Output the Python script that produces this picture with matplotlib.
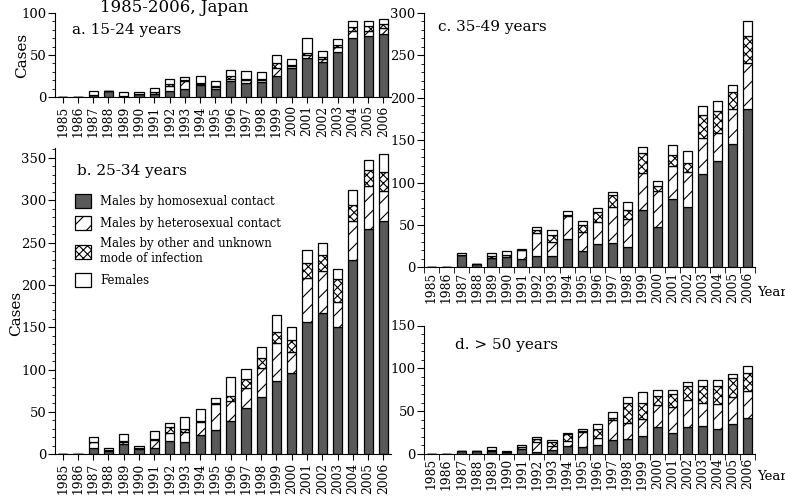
import matplotlib
matplotlib.use('Agg')
import matplotlib.pyplot as plt
from matplotlib.patches import Patch
from matplotlib.ticker import MultipleLocator, FixedLocator

plt.rcParams['font.family'] = 'DejaVu Serif'
plt.rcParams['hatch.linewidth'] = 0.8

years = list(range(1985, 2007))

# a. 15-24 years
a_homo = [0, 0, 2, 7, 1, 3, 3, 7, 10, 14, 10, 19, 17, 18, 25, 34, 47, 42, 54, 70, 73, 75]
a_hetero = [0, 0, 0, 0, 0, 0, 3, 6, 9, 2, 2, 3, 3, 2, 10, 3, 3, 3, 5, 8, 6, 7]
a_other = [0, 0, 0, 0, 0, 0, 0, 2, 1, 1, 1, 3, 1, 2, 6, 1, 2, 3, 3, 5, 5, 5]
a_female = [0, 0, 5, 0, 5, 3, 5, 7, 4, 8, 6, 7, 10, 8, 9, 7, 18, 7, 7, 8, 7, 6]

# b. 25-34 years
b_homo = [0, 0, 8, 4, 12, 6, 7, 16, 15, 23, 29, 39, 55, 68, 87, 96, 156, 167, 150, 230, 266, 275]
b_hetero = [0, 0, 7, 1, 3, 2, 10, 9, 11, 15, 30, 24, 23, 34, 45, 25, 52, 50, 30, 45, 51, 36]
b_other = [0, 0, 0, 0, 1, 0, 1, 7, 4, 1, 2, 6, 11, 12, 13, 14, 18, 18, 27, 19, 19, 23]
b_female = [0, 0, 6, 2, 8, 2, 10, 5, 14, 15, 5, 22, 12, 13, 19, 15, 15, 14, 12, 18, 12, 21]

# c. 35-49 years
c_homo = [0, 0, 15, 4, 11, 12, 10, 13, 13, 33, 19, 28, 29, 24, 68, 47, 80, 71, 110, 125, 146, 187]
c_hetero = [0, 0, 0, 0, 0, 3, 10, 28, 17, 27, 23, 26, 42, 33, 43, 43, 39, 42, 42, 34, 41, 54]
c_other = [0, 0, 0, 0, 2, 0, 0, 3, 8, 2, 8, 11, 14, 11, 24, 6, 13, 10, 28, 25, 20, 32]
c_female = [0, 0, 2, 0, 4, 4, 2, 3, 6, 4, 5, 5, 4, 9, 7, 6, 12, 14, 10, 12, 8, 17]

# d. > 50 years
d_homo = [0, 0, 3, 4, 3, 2, 6, 2, 5, 9, 8, 10, 16, 18, 21, 31, 25, 31, 33, 29, 35, 42]
d_hetero = [0, 0, 0, 0, 0, 0, 2, 12, 4, 6, 18, 9, 24, 18, 20, 26, 30, 32, 27, 29, 31, 31]
d_other = [0, 0, 0, 0, 2, 0, 0, 4, 5, 8, 1, 10, 2, 24, 19, 11, 15, 16, 19, 21, 23, 22]
d_female = [0, 0, 0, 0, 3, 1, 3, 2, 2, 1, 2, 6, 7, 6, 12, 7, 5, 5, 7, 7, 4, 8]

labels = ['Males by homosexual contact', 'Males by heterosexual contact',
          'Males by other and unknown\nmode of infection', 'Females']
# face colour, hatch for each category
styles = [('#595959', None), ('white', '//'), ('white', 'xxxx'), ('white', None)]


def draw_panel(ax, series, ymax, yticks, title, tx, ty, edge_ticks):
    x = list(range(len(years)))
    bottom = [0] * len(years)
    for vals, (fc, h) in zip(series, styles):
        ax.bar(x, vals, width=0.6, bottom=bottom, color=fc, hatch=h,
               edgecolor='black', linewidth=0.9)
        bottom = [b + v for b, v in zip(bottom, vals)]
    ax.set_xlim(-0.5, len(years) - 0.5)
    ax.set_ylim(0, ymax)
    ax.spines['top'].set_visible(False)
    ax.spines['right'].set_visible(False)
    ax.set_xticks(x)
    ax.set_xticklabels([str(y) for y in years], rotation=90, fontsize=8.8)
    if edge_ticks:
        # tick marks between the bars (panels c and d)
        ax.xaxis.set_minor_locator(FixedLocator([i - 0.5 for i in range(len(years) + 1)]))
        ax.tick_params(axis='x', which='major', length=0, pad=3)
        ax.tick_params(axis='x', which='minor', length=4, direction='out')
    else:
        ax.tick_params(axis='x', which='major', length=4, pad=2)
    ax.set_yticks(yticks)
    ax.yaxis.set_minor_locator(MultipleLocator(10))
    ax.tick_params(axis='y', which='major', length=5, labelsize=9.5, pad=1)
    ax.tick_params(axis='y', which='minor', length=2.5)
    ax.text(tx, ty, title, transform=ax.transAxes, fontsize=11, va='center')


fig = plt.figure(figsize=(7.85, 5), dpi=100)

ax_a = fig.add_axes([0.0701, 0.806, 0.428, 0.168])
draw_panel(ax_a, [a_homo, a_hetero, a_other, a_female], 100, [0, 50, 100],
           'a. 15-24 years', 0.05, 0.80, False)
ax_a.set_ylabel('Cases', fontsize=11)
ax_a.yaxis.set_label_coords(-0.078, 0.5)

ax_b = fig.add_axes([0.0701, 0.0914, 0.428, 0.613])
draw_panel(ax_b, [b_homo, b_hetero, b_other, b_female], 362, list(range(0, 351, 50)),
           'b. 25-34 years', 0.065, 0.925, False)
ax_b.set_ylabel('Cases', fontsize=11)
ax_b.yaxis.set_label_coords(-0.096, 0.46)
handles = [Patch(facecolor=fc, hatch=h, edgecolor='black', linewidth=0.9) for fc, h in styles]
ax_b.legend(handles, labels, loc='upper left', bbox_to_anchor=(0.058, 0.848),
            frameon=False, fontsize=8.4, handlelength=1.45, handleheight=1.45,
            handletextpad=0.75, labelspacing=0.65, borderpad=0, borderaxespad=0)

ax_c = fig.add_axes([0.540, 0.4654, 0.4223, 0.5086])
draw_panel(ax_c, [c_homo, c_hetero, c_other, c_female], 300, list(range(0, 301, 50)),
           'c. 35-49 years', 0.042, 0.945, True)

ax_d = fig.add_axes([0.540, 0.092, 0.4223, 0.257])
draw_panel(ax_d, [d_homo, d_hetero, d_other, d_female], 150, [0, 50, 100, 150],
           'd. > 50 years', 0.094, 0.85, True)

fig.text(0.222, 1 - 12 / 500, '1985-2006, Japan', fontsize=12, ha='center', va='baseline')
fig.text(0.964, 1 - 293 / 500, 'Year', fontsize=9.5, va='center')
fig.text(0.964, 1 - 477 / 500, 'Year', fontsize=9.5, va='center')

fig.savefig('out.png', dpi=100)
